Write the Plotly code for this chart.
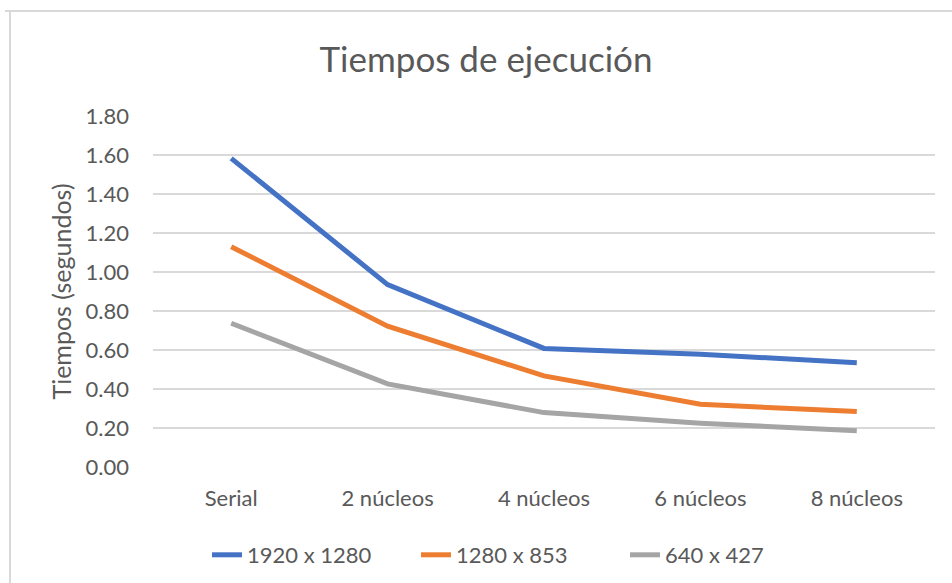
import plotly.graph_objects as go

categories = ["Serial", "2 núcleos", "4 núcleos", "6 núcleos", "8 núcleos"]
series_names = ["1920 x 1280", "1280 x 853", "640 x 427"]
s1920 = [1.583, 0.935, 0.608, 0.578, 0.535]
s1280 = [1.130, 0.722, 0.467, 0.322, 0.284]
s640 = [0.737, 0.426, 0.279, 0.224, 0.186]
colors = ["#4472C4", "#ED7D31", "#A5A5A5"]

W, H = 952, 583
L, R, T, B = 153, 17, 116, 116

fig = go.Figure()
for name, vals, c in zip(series_names, [s1920, s1280, s640], colors):
    fig.add_trace(go.Scatter(x=categories, y=vals, mode="lines", name=name,
                             line=dict(color=c, width=5)))

font_family = "Lato, 'Open Sans', sans-serif"
txt = "#595959"

# chart border (paper coords)
pw, ph = W - L - R, H - T - B
xl = (10 - L) / pw
yt = (H - B - 11) / ph
fig.add_shape(type="line", xref="paper", yref="paper", x0=xl, x1=xl, y0=-0.6, y1=yt,
              line=dict(color="#D9D9D9", width=2))
fig.add_shape(type="line", xref="paper", yref="paper", x0=(5 - L) / pw, x1=1.1, y0=yt, y1=yt,
              line=dict(color="#D9D9D9", width=2))

fig.update_layout(
    width=W, height=H,
    margin=dict(l=L, r=R, t=T, b=B, autoexpand=False),
    paper_bgcolor="white", plot_bgcolor="white",
    font=dict(family=font_family, color=txt, size=22),
    title=dict(text="Tiempos de ejecución", x=486 / W, xanchor="center", xref="container",
               y=1 - 60 / H, yanchor="middle", yref="container",
               font=dict(size=35, color=txt, family=font_family)),
    xaxis=dict(range=[-0.5, 4.5], showgrid=False, showline=False, zeroline=False, ticks="",
               ticklabelstandoff=16, tickfont=dict(size=22, color=txt)),
    yaxis=dict(range=[0, 1.8], dtick=0.2, tickformat=".2f", showgrid=True,
               gridcolor="#D9D9D9", gridwidth=1.5, zeroline=False, showline=False,
               ticklabelstandoff=23, tickfont=dict(size=22, color=txt),
               title=dict(text="Tiempos (segundos)", standoff=6,
                          font=dict(size=25, color=txt))),
    legend=dict(orientation="h", x=(207 - L) / pw, xanchor="left",
                y=(H - B - 555) / ph, yanchor="middle",
                entrywidth=164, entrywidthmode="pixels",
                font=dict(size=22, color=txt)),
    showlegend=True,
)

fig.write_html("out.html", config={"displayModeBar": False},
               post_script="document.body.style.margin='0';")
